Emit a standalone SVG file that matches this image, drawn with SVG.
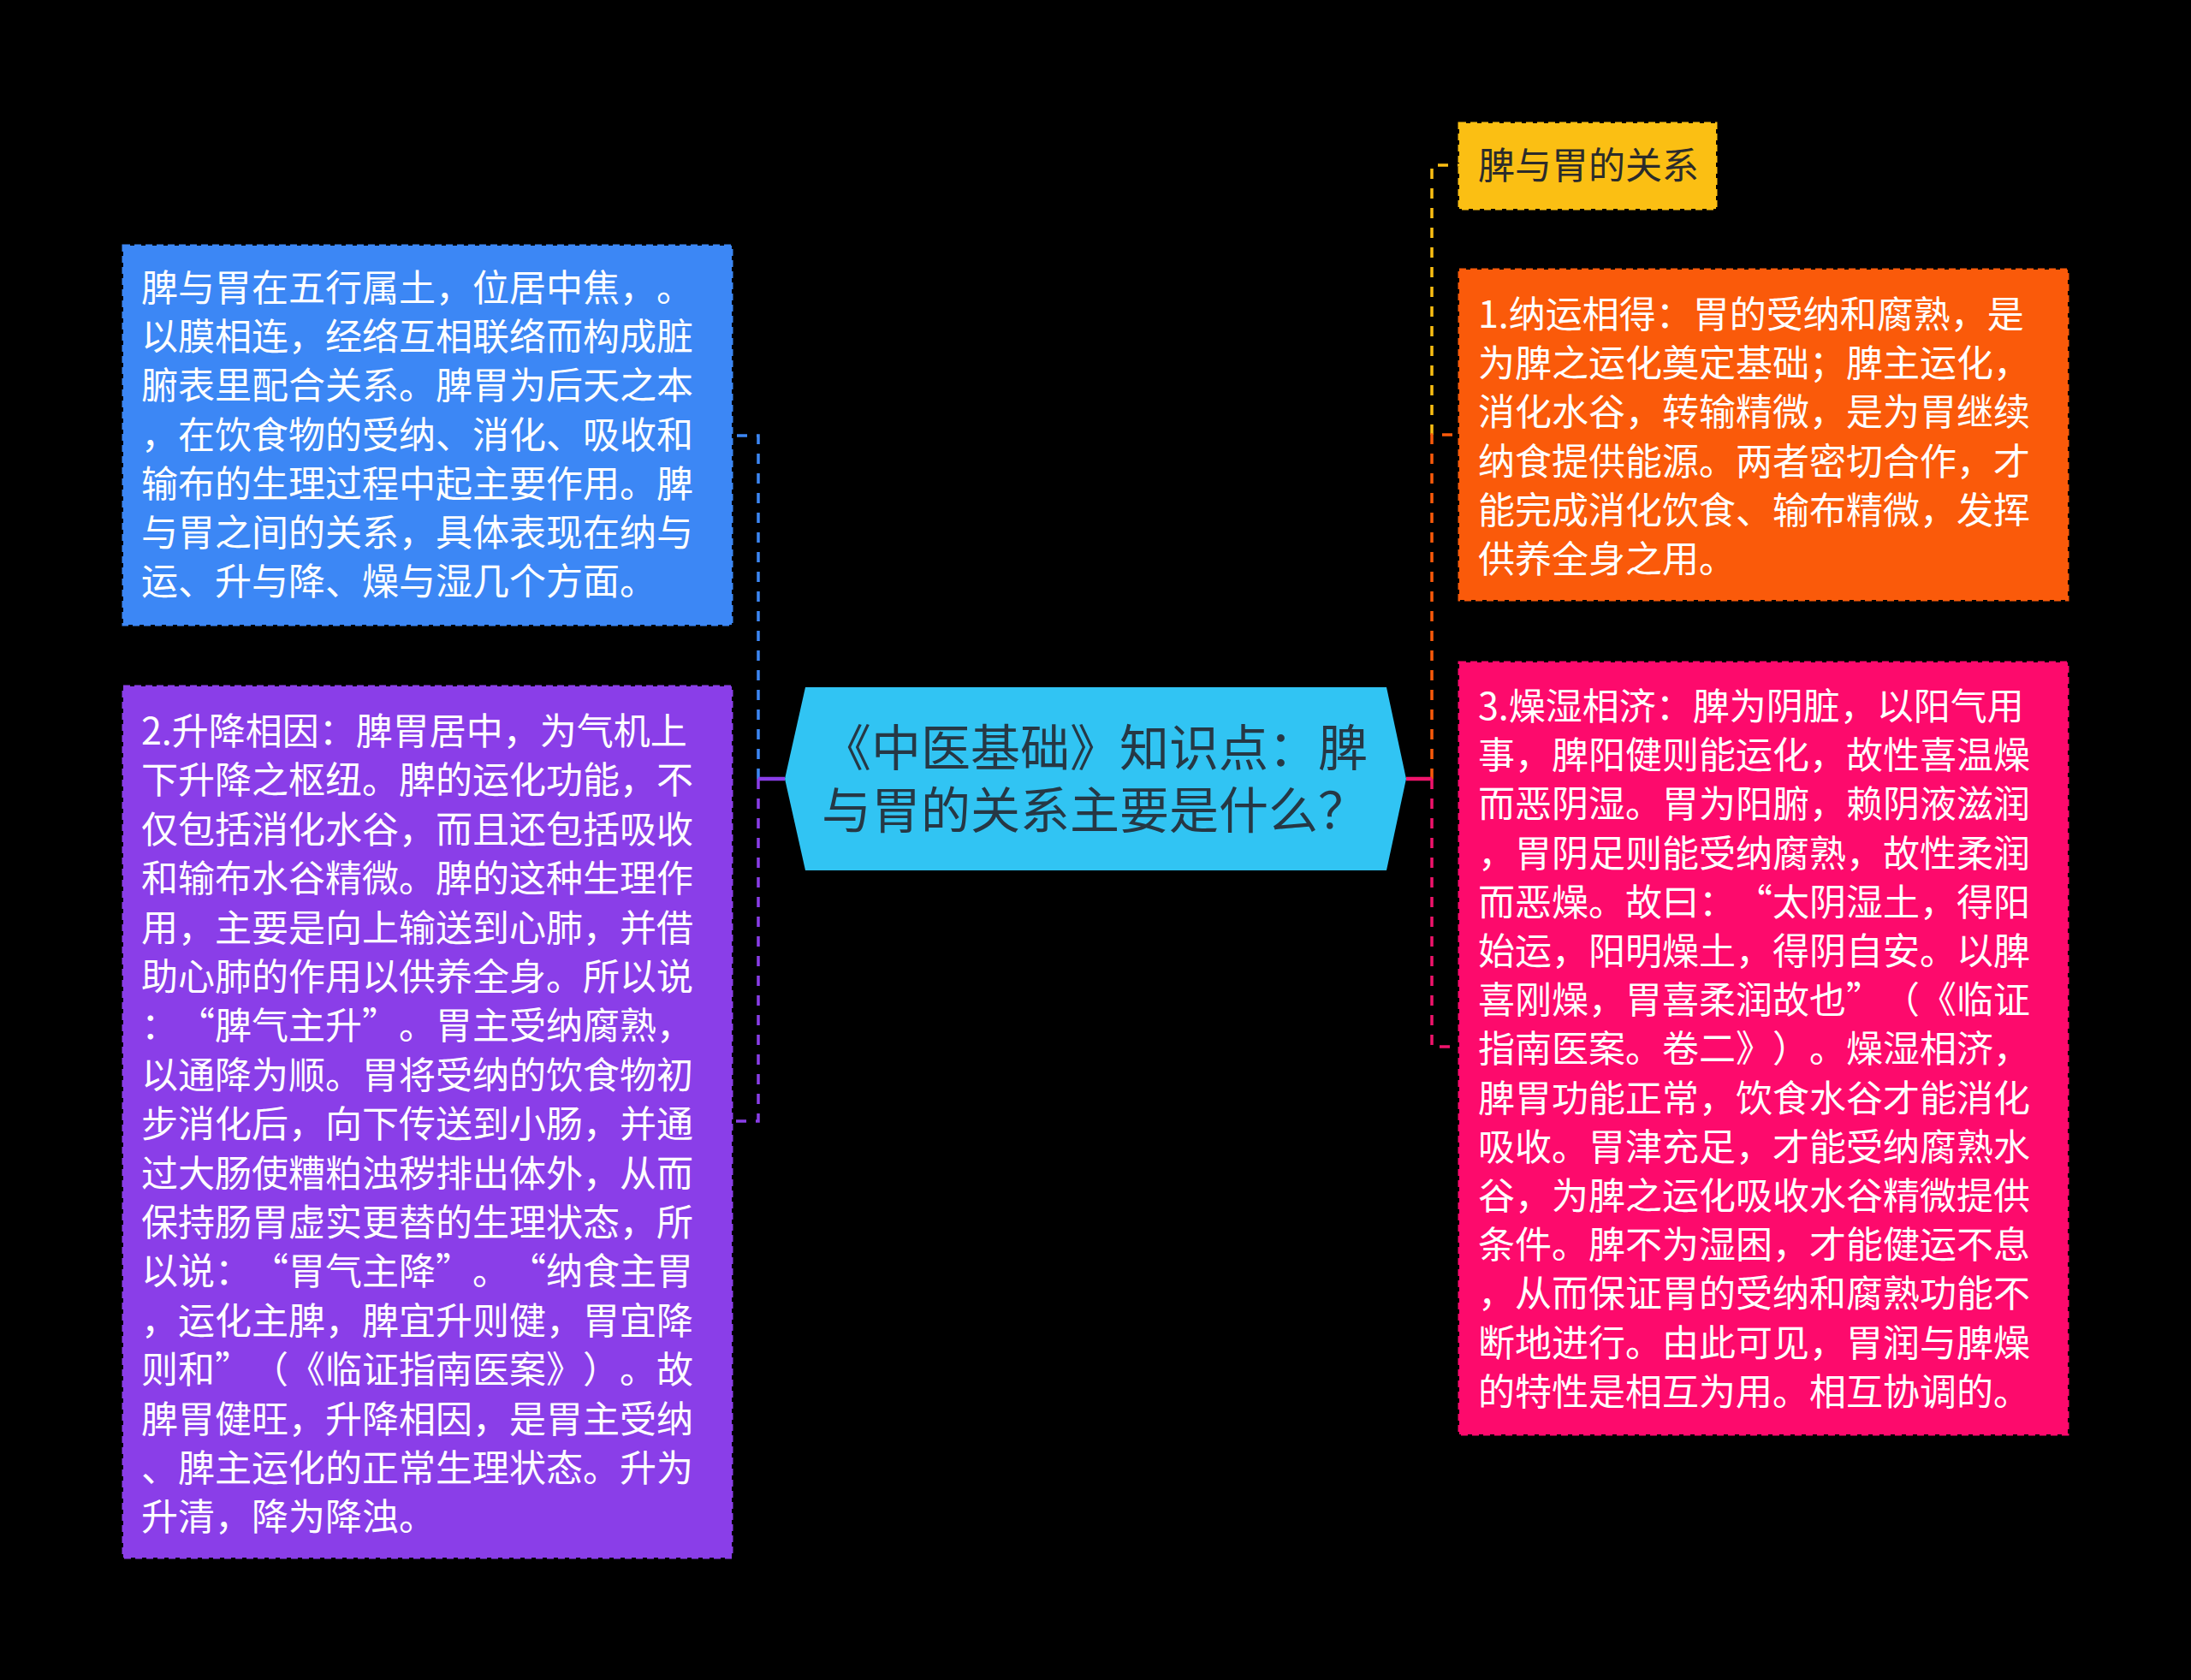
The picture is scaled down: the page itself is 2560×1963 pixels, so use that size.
<svg xmlns="http://www.w3.org/2000/svg" width="2560" height="1963" viewBox="0 0 2560 1963">
<style>
.bg{fill:#000}
.box{stroke-width:3;stroke-dasharray:8 5}
text{text-spacing-trim:space-all;font-kerning:none;font-feature-settings:"halt" 0,"chws" 0,"palt" 0,"kern" 0}
.t{font-family:"Noto Sans CJK SC","Noto Sans",sans-serif;font-size:43px;fill:#ffffff}
.dk{fill:#2b2b2b}
.ht{font-family:"Noto Sans CJK SC","Noto Sans",sans-serif;font-size:58px;fill:#263845}
.c{fill:none;stroke-width:3.5;stroke-dasharray:12 11}
.s{fill:none;stroke-width:4.5}
</style>
<rect class="bg" x="0" y="0" width="2560" height="1963"/>
<g id="connectors">
  <path class="c" stroke="#3c87f5" d="M886 910 V509 H856"/>
  <path class="c" stroke="#8a3ee8" d="M886 910 V1310 H856"/>
  <path class="s" stroke="#8a3ee8" d="M917 910 H886"/>
  <path class="c" stroke="#fbbf13" d="M1673 508 V193 H1705"/>
  <path class="c" stroke="#fa5a0a" d="M1673 910 V508 H1705"/>
  <path class="c" stroke="#f0146c" d="M1673 910 V1223 H1705"/>
  <path class="s" stroke="#f0146c" d="M1643 910 H1673"/>
</g>
<g id="center">
  <polygon points="917,910 941,803 1620,803 1643,910 1620,1017 941,1017" fill="#31c4f3"/>
  <text class="ht"><tspan x="960" y="895">《中医基础》知识点：脾</tspan><tspan x="960" y="968">与胃的关系主要是什么？</tspan></text>
</g>
<g id="node-intro">
  <rect class="box" x="144" y="287" width="711" height="443" fill="#3c87f5" stroke="#3c87f5"/>
  <text class="t">
    <tspan x="165" y="352">脾与胃在五行属土，位居中焦，。</tspan>
    <tspan x="165" y="409">以膜相连，经络互相联络而构成脏</tspan>
    <tspan x="165" y="466">腑表里配合关系。脾胃为后天之本</tspan>
    <tspan x="165" y="524">，在饮食物的受纳、消化、吸收和</tspan>
    <tspan x="165" y="581">输布的生理过程中起主要作用。脾</tspan>
    <tspan x="165" y="638">与胃之间的关系，具体表现在纳与</tspan>
    <tspan x="165" y="695">运、升与降、燥与湿几个方面。</tspan>
  </text>
</g>
<g id="node-2">
  <rect class="box" x="144" y="802" width="711" height="1018" fill="#8a3ee8" stroke="#8a3ee8"/>
  <text class="t">
    <tspan x="165" y="870">2.升降相因：脾胃居中，为气机上</tspan>
    <tspan x="165" y="927">下升降之枢纽。脾的运化功能，不</tspan>
    <tspan x="165" y="985">仅包括消化水谷，而且还包括吸收</tspan>
    <tspan x="165" y="1042">和输布水谷精微。脾的这种生理作</tspan>
    <tspan x="165" y="1100">用，主要是向上输送到心肺，并借</tspan>
    <tspan x="165" y="1157">助心肺的作用以供养全身。所以说</tspan>
    <tspan x="165" y="1214">：“脾气主升”。胃主受纳腐熟，</tspan>
    <tspan x="165" y="1272">以通降为顺。胃将受纳的饮食物初</tspan>
    <tspan x="165" y="1329">步消化后，向下传送到小肠，并通</tspan>
    <tspan x="165" y="1387">过大肠使糟粕浊秽排出体外，从而</tspan>
    <tspan x="165" y="1444">保持肠胃虚实更替的生理状态，所</tspan>
    <tspan x="165" y="1501">以说：“胃气主降”。“纳食主胃</tspan>
    <tspan x="165" y="1559">，运化主脾，脾宜升则健，胃宜降</tspan>
    <tspan x="165" y="1616">则和”（《临证指南医案》）。故</tspan>
    <tspan x="165" y="1674">脾胃健旺，升降相因，是胃主受纳</tspan>
    <tspan x="165" y="1731">、脾主运化的正常生理状态。升为</tspan>
    <tspan x="165" y="1788">升清，降为降浊。</tspan>
  </text>
</g>
<g id="node-title">
  <rect class="box" x="1705" y="144" width="300" height="100" fill="#fbbf13" stroke="#fbbf13"/>
  <text class="t dk"><tspan x="1727" y="209">脾与胃的关系</tspan></text>
</g>
<g id="node-1">
  <rect class="box" x="1705" y="315" width="711" height="386" fill="#fa5a0a" stroke="#fa5a0a"/>
  <text class="t">
    <tspan x="1727" y="383">1.纳运相得：胃的受纳和腐熟，是</tspan>
    <tspan x="1727" y="440">为脾之运化奠定基础；脾主运化，</tspan>
    <tspan x="1727" y="497">消化水谷，转输精微，是为胃继续</tspan>
    <tspan x="1727" y="555">纳食提供能源。两者密切合作，才</tspan>
    <tspan x="1727" y="612">能完成消化饮食、输布精微，发挥</tspan>
    <tspan x="1727" y="669">供养全身之用。</tspan>
  </text>
</g>
<g id="node-3">
  <rect class="box" x="1705" y="774" width="711" height="902" fill="#fd0a6c" stroke="#fd0a6c"/>
  <text class="t">
    <tspan x="1727" y="841">3.燥湿相济：脾为阴脏，以阳气用</tspan>
    <tspan x="1727" y="898">事，脾阳健则能运化，故性喜温燥</tspan>
    <tspan x="1727" y="955">而恶阴湿。胃为阳腑，赖阴液滋润</tspan>
    <tspan x="1727" y="1013">，胃阴足则能受纳腐熟，故性柔润</tspan>
    <tspan x="1727" y="1070">而恶燥。故曰：“太阴湿土，得阳</tspan>
    <tspan x="1727" y="1127">始运，阳明燥土，得阴自安。以脾</tspan>
    <tspan x="1727" y="1184">喜刚燥，胃喜柔润故也”（《临证</tspan>
    <tspan x="1727" y="1241">指南医案。卷二》）。燥湿相济，</tspan>
    <tspan x="1727" y="1299">脾胃功能正常，饮食水谷才能消化</tspan>
    <tspan x="1727" y="1356">吸收。胃津充足，才能受纳腐熟水</tspan>
    <tspan x="1727" y="1413">谷，为脾之运化吸收水谷精微提供</tspan>
    <tspan x="1727" y="1470">条件。脾不为湿困，才能健运不息</tspan>
    <tspan x="1727" y="1527">，从而保证胃的受纳和腐熟功能不</tspan>
    <tspan x="1727" y="1585">断地进行。由此可见，胃润与脾燥</tspan>
    <tspan x="1727" y="1642">的特性是相互为用。相互协调的。</tspan>
  </text>
</g>
</svg>
